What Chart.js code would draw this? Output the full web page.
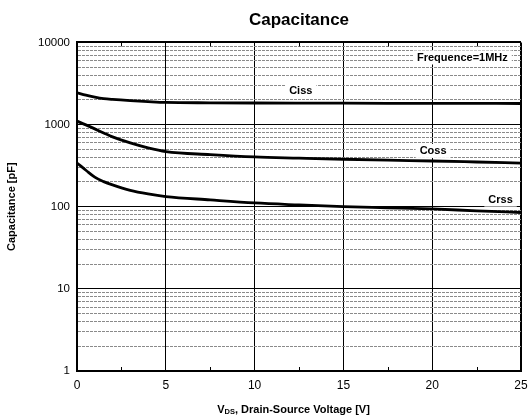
<!DOCTYPE html>
<html>
<head>
<meta charset="utf-8">
<script src="https://cdn.jsdelivr.net/npm/chart.js@4/dist/chart.umd.min.js"></script>
<style>
  html, body { margin: 0; padding: 0; background: #fff; }
  #wrap { width: 529px; height: 420px; }
</style>
</head>
<body>
<div id="wrap"><canvas id="capChart"></canvas></div>
<script>
// Drain-source voltage [V] and measured capacitances [pF]
const vds  = [0, 0.5, 1, 1.5, 2, 3, 4, 5, 7.5, 10, 12.5, 15, 17.5, 20, 22.5, 25];
const ciss = [2440, 2280, 2160, 2070, 2020, 1950, 1900, 1860, 1840, 1830, 1825, 1820, 1815, 1812, 1808, 1805];
const coss = [1100, 990, 886, 790, 707, 597, 519, 468, 430, 403, 390, 378, 368, 360, 350, 340];
const crss = [340, 278, 229, 202, 184, 158, 143, 133, 121, 111, 105, 100, 97, 94, 89, 85];

// axis ticks
const xTicks = [0, 5, 10, 15, 20, 25];
const xMinorTicks = [2.5, 7.5, 12.5, 17.5, 22.5];
const yTicks = [
  1, 2, 3, 4, 5, 6, 7, 8, 9,
  10, 20, 30, 40, 50, 60, 70, 80, 90,
  100, 200, 300, 400, 500, 600, 700, 800, 900,
  1000, 2000, 3000, 4000, 5000, 6000, 7000, 8000, 9000,
  10000
];

// inline text placed in data coordinates
const curveLabels = [
  { text: "Ciss", x: 12.6, y: 2560 },
  { text: "Coss", x: 20.05, y: 478 },
  { text: "Crss", x: 23.85, y: 122 },
  { text: "Frequence=1MHz", x: 21.7, y: 6550 }
];

const FONT = "'Liberation Sans', Arial, sans-serif";
const isDecade = v => Math.abs(Math.log10(v) - Math.round(Math.log10(v))) < 1e-9;

const labelPlugin = {
  id: "curveLabels",
  beforeDatasetsDraw(chart) {
    const { ctx, scales: { x, y } } = chart;
    ctx.save();
    ctx.font = "bold 11px " + FONT;
    ctx.textAlign = "center";
    ctx.textBaseline = "middle";
    curveLabels.forEach(l => {
      const px = x.getPixelForValue(l.x);
      const py = y.getPixelForValue(l.y);
      const w = ctx.measureText(l.text).width;
      ctx.fillStyle = "#fff";
      ctx.fillRect(px - w / 2 - 4, py - 7, w + 8, 14);
      ctx.fillStyle = "#000";
      ctx.fillText(l.text, px, py);
    });
    ctx.restore();
  },
  afterDraw(chart) {
    const { ctx, chartArea, scales: { x } } = chart;
    ctx.save();
    // short inward minor ticks on bottom and top edges
    ctx.strokeStyle = "#000";
    ctx.lineWidth = 1;
    xMinorTicks.forEach(v => {
      const px = Math.round(x.getPixelForValue(v)) + 0.5;
      ctx.beginPath();
      ctx.moveTo(px, chartArea.bottom);
      ctx.lineTo(px, chartArea.bottom - 4);
      ctx.moveTo(px, chartArea.top);
      ctx.lineTo(px, chartArea.top + 4);
      ctx.stroke();
    });

    // x axis title with subscript
    const parts = [
      { t: "V", f: "bold 11px " + FONT, dy: 0 },
      { t: "DS", f: "bold 7.5px " + FONT, dy: 2 },
      { t: ", Drain-Source Voltage [V]", f: "bold 11px " + FONT, dy: 0 }
    ];
    let total = 0;
    parts.forEach(p => { ctx.font = p.f; p.w = ctx.measureText(p.t).width; total += p.w; });
    let cx = 293.5 - total / 2;
    const cy = 410;
    ctx.fillStyle = "#000";
    ctx.textAlign = "left";
    ctx.textBaseline = "middle";
    parts.forEach(p => {
      ctx.font = p.f;
      ctx.fillText(p.t, cx, cy + p.dy);
      cx += p.w;
    });
    ctx.restore();
  }
};

const line = (data) => ({
  data: data,
  borderColor: "#000",
  borderWidth: 2.8,
  pointRadius: 0,
  cubicInterpolationMode: "monotone",
  fill: false
});

new Chart(document.getElementById("capChart"), {
  type: "line",
  data: {
    labels: vds,
    datasets: [
      { label: "Ciss", ...line(vds.map((v, i) => ({ x: v, y: ciss[i] }))) },
      { label: "Coss", ...line(vds.map((v, i) => ({ x: v, y: coss[i] }))) },
      { label: "Crss", ...line(vds.map((v, i) => ({ x: v, y: crss[i] }))) }
    ]
  },
  options: {
    responsive: true,
    maintainAspectRatio: false,
    animation: false,
    events: [],
    layout: { padding: { left: 0, right: 1, top: 0, bottom: 0 } },
    plugins: {
      legend: { display: false },
      tooltip: { enabled: false },
      title: {
        display: true,
        text: "Capacitance",
        fullSize: false,
        color: "#000",
        font: { family: FONT, size: 17, weight: "bold" },
        padding: { top: 10, bottom: 12 }
      }
    },
    scales: {
      x: {
        type: "linear",
        min: 0,
        max: 25,
        afterBuildTicks: s => { s.ticks = xTicks.map(v => ({ value: v })); },
        afterFit: s => { s.height = 49; s.paddingLeft = 0; s.paddingRight = 8; },
        ticks: {
          color: "#000",
          padding: 7,
          font: { family: FONT, size: 12 }
        },
        grid: {
          color: "#000",
          lineWidth: ctx => (ctx.tick && ctx.tick.value === 25) ? 2 : 1,
          drawTicks: false
        },
        border: { color: "#000", width: 2 }
      },
      y: {
        type: "logarithmic",
        min: 1,
        max: 10000,
        afterBuildTicks: s => { s.ticks = yTicks.map(v => ({ value: v })); },
        afterFit: s => { s.width = 77; },
        ticks: {
          color: "#000",
          padding: 7,
          autoSkip: false,
          font: { family: FONT, size: 11.5 },
          callback: v => isDecade(v) ? String(v) : ""
        },
        grid: {
          color: ctx => (ctx.tick && isDecade(ctx.tick.value)) ? "#000" : "#8a8a8a",
          lineWidth: ctx => (ctx.tick && ctx.tick.value === 10000) ? 2 : 1,
          drawTicks: false
        },
        border: {
          color: "#000",
          width: 2,
          dash: ctx => (ctx.tick && !isDecade(ctx.tick.value)) ? [3, 1] : []
        },
        title: {
          display: true,
          text: "Capacitance [pF]",
          color: "#000",
          font: { family: FONT, size: 11, weight: "bold" },
          padding: { top: 5, bottom: 0 }
        }
      }
    }
  },
  plugins: [labelPlugin]
});
</script>
</body>
</html>
